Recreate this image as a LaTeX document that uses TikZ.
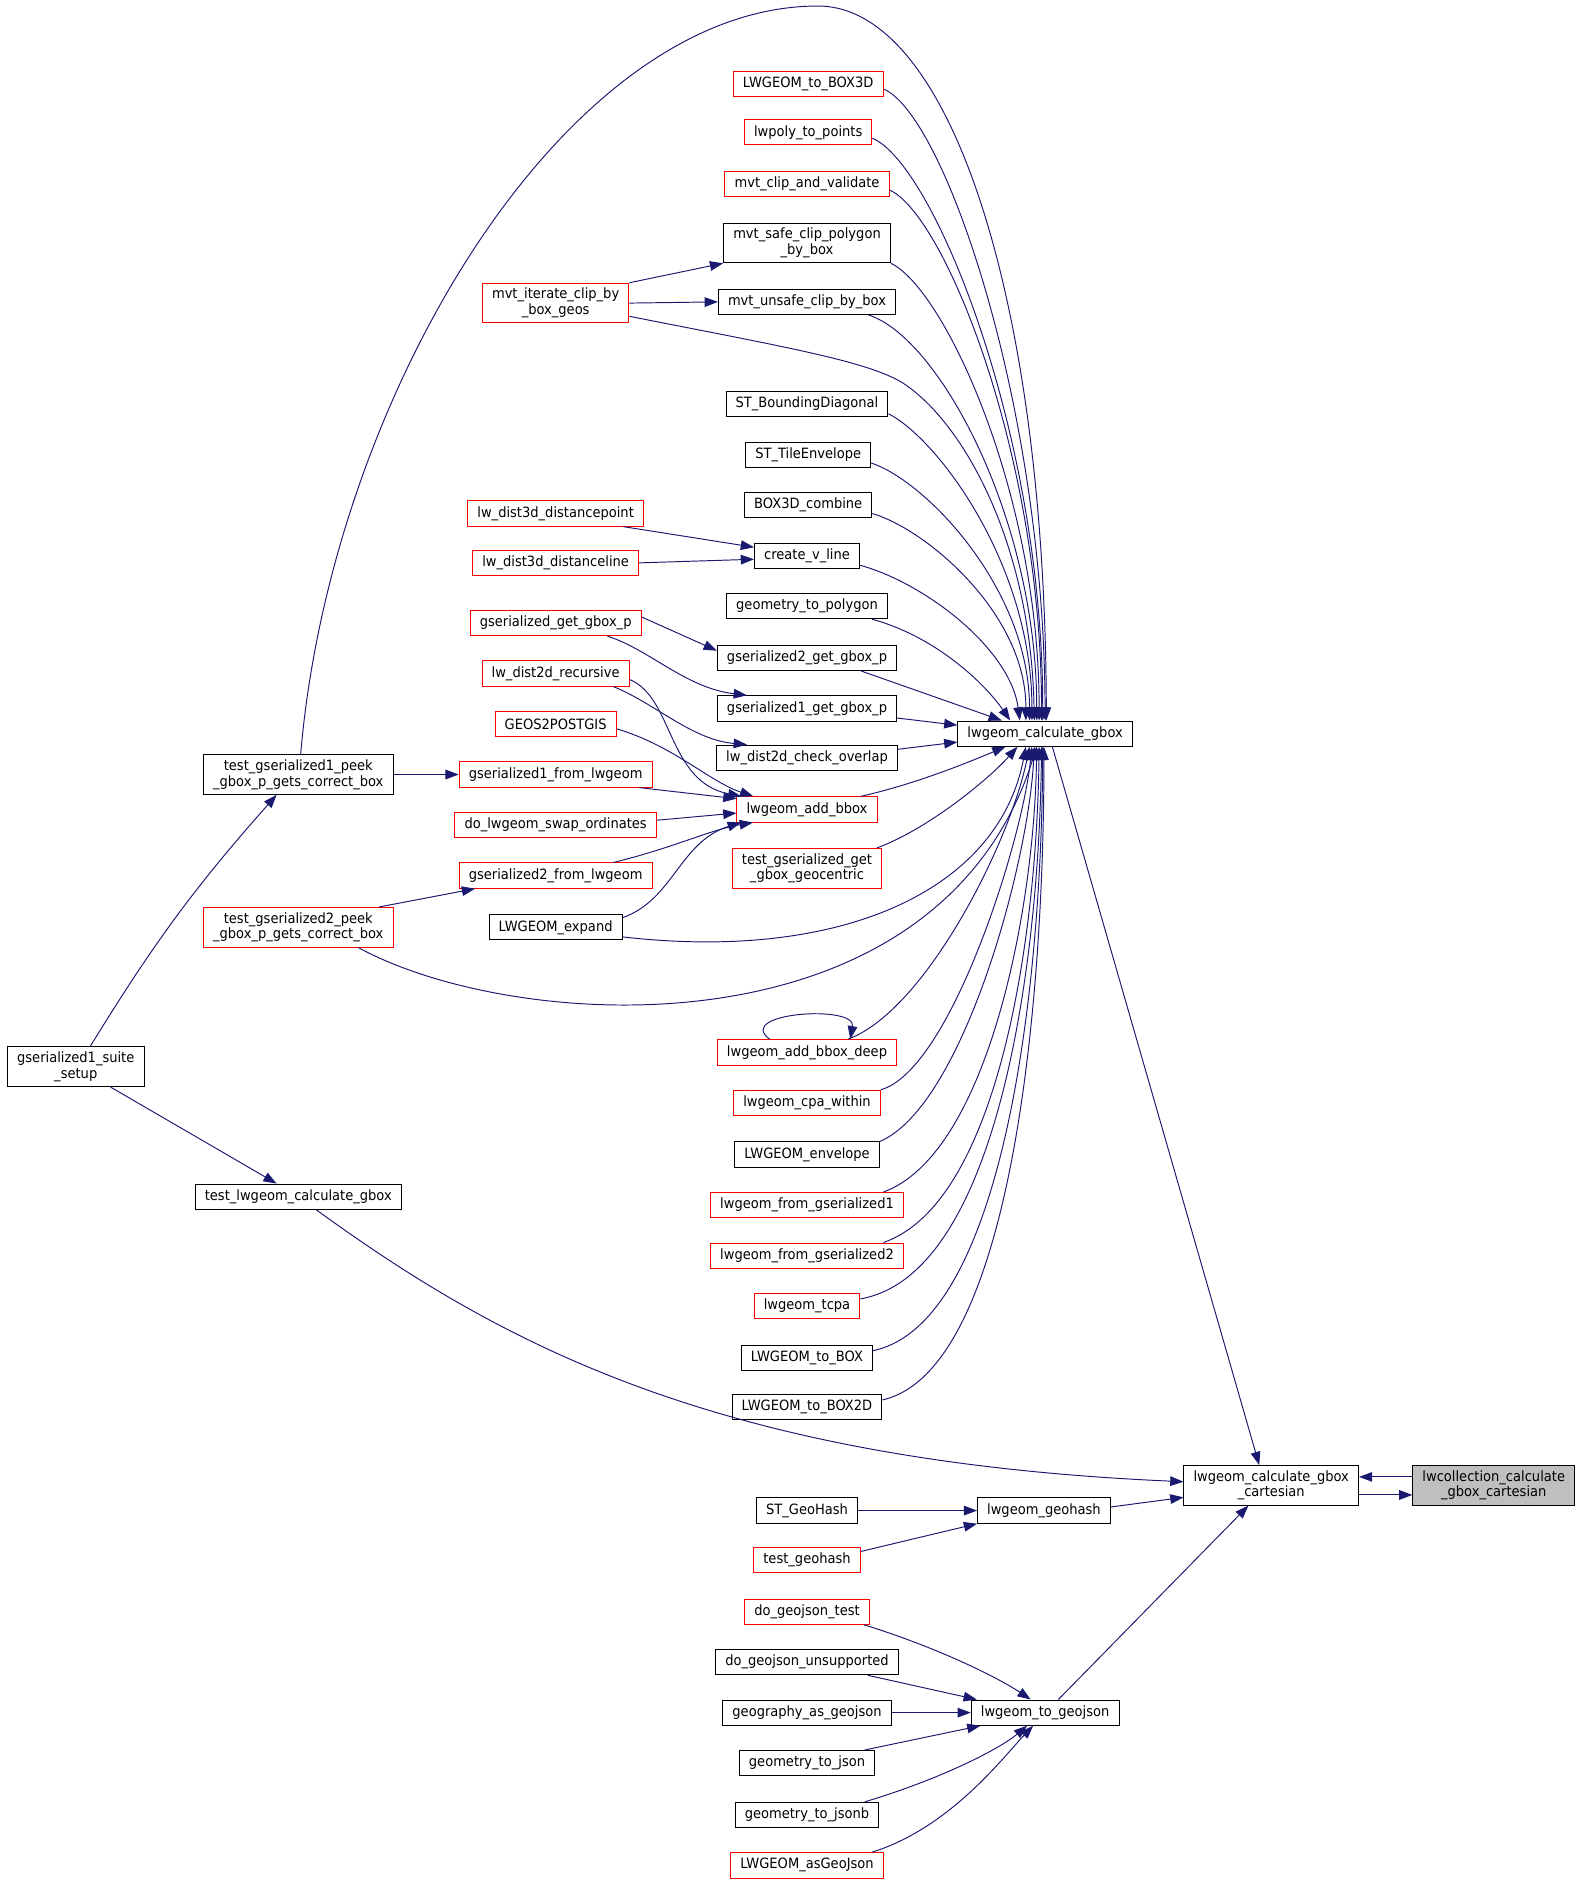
\documentclass[tikz,border=0pt]{standalone}
\usepackage{fontspec}
\setmainfont{DejaVu Sans}[FakeStretch=0.92]
\usepackage{tikz}
\usetikzlibrary{arrows.meta}
\definecolor{navyline}{HTML}{191970}
\newcommand{\nodefont}{\fontsize{11.8}{13}\selectfont}

\begin{document}
\begin{tikzpicture}[x=1pt, y=-1pt,
    fn/.style={draw=black, fill=white, line width=0.8pt, inner xsep=8pt, inner ysep=0pt, minimum height=21pt, font=\nodefont, align=center},
    fnred/.style={fn, draw=red},
    fnfocus/.style={fn, fill=black!25},
    twoline/.style={minimum height=33pt},
    callarrow/.style={draw=navyline, line width=0.8pt, -{Triangle[length=11pt,width=8pt]}}]
    \useasboundingbox (0,0) rectangle (1313,1564);
    \node[fnfocus, twoline] (focus) at (1242,1235) {lwcollection\_calculate\\\_gbox\_cartesian};
    \node[fn, twoline] (cart) at (1057,1235) {lwgeom\_calculate\_gbox\\\_cartesian};
    \node[fn] (calc) at (869,610) {lwgeom\_calculate\_gbox};
    \node[fn] (geohash) at (868,1256) {lwgeom\_geohash};
    \node[fn] (togeojson) at (869,1424) {lwgeom\_to\_geojson};
    \node[fn] (testcalc) at (248,995) {test\_lwgeom\_calculate\_gbox};
    \node[fn, twoline] (suite) at (63,887) {gserialized1\_suite\\\_setup};
    \node[fn, twoline] (peekone) at (248,644) {test\_gserialized1\_peek\\\_gbox\_p\_gets\_correct\_box};
    \node[fnred, twoline] (peektwo) at (248,771) {test\_gserialized2\_peek\\\_gbox\_p\_gets\_correct\_box};
    \node[fnred] (boxthreed) at (672,70) {LWGEOM\_to\_BOX3D};
    \node[fnred] (polypts) at (672,110) {lwpoly\_to\_points};
    \node[fnred] (clipval) at (671,153) {mvt\_clip\_and\_validate};
    \node[fn, twoline] (safeclip) at (671,202) {mvt\_safe\_clip\_polygon\\\_by\_box};
    \node[fn] (unsafeclip) at (671,251) {mvt\_unsafe\_clip\_by\_box};
    \node[fnred, twoline] (iterclip) at (462,252) {mvt\_iterate\_clip\_by\\\_box\_geos};
    \node[fn] (bounddiag) at (671,336) {ST\_BoundingDiagonal};
    \node[fn] (tileenv) at (672,378) {ST\_TileEnvelope};
    \node[fn] (combine) at (672,420) {BOX3D\_combine};
    \node[fnred] (distpoint) at (462,427) {lw\_dist3d\_distancepoint};
    \node[fnred] (distline) at (462,468) {lw\_dist3d\_distanceline};
    \node[fn] (vline) at (671,462) {create\_v\_line};
    \node[fn] (geompoly) at (671,504) {geometry\_to\_polygon};
    \node[fnred] (getgbox) at (462,518) {gserialized\_get\_gbox\_p};
    \node[fn] (gettwo) at (671,547) {gserialized2\_get\_gbox\_p};
    \node[fn] (getone) at (671,589) {gserialized1\_get\_gbox\_p};
    \node[fnred] (recursive) at (462,560) {lw\_dist2d\_recursive};
    \node[fn] (overlap) at (671,630) {lw\_dist2d\_check\_overlap};
    \node[fnred] (geos) at (462,602) {GEOS2POSTGIS};
    \node[fnred] (fromone) at (462,644) {gserialized1\_from\_lwgeom};
    \node[fnred] (swap) at (462,686) {do\_lwgeom\_swap\_ordinates};
    \node[fnred] (fromtwo) at (462,728) {gserialized2\_from\_lwgeom};
    \node[fn] (expand) at (462,771) {LWGEOM\_expand};
    \node[fnred] (addbbox) at (671,673) {lwgeom\_add\_bbox};
    \node[fnred, twoline] (geocentric) at (671,722) {test\_gserialized\_get\\\_gbox\_geocentric};
    \node[fnred] (bboxdeep) at (671,875) {lwgeom\_add\_bbox\_deep};
    \node[fnred] (cpa) at (671,917) {lwgeom\_cpa\_within};
    \node[fn] (envelope) at (671,960) {LWGEOM\_envelope};
    \node[fnred] (gserone) at (671,1002) {lwgeom\_from\_gserialized1};
    \node[fnred] (gsertwo) at (671,1044) {lwgeom\_from\_gserialized2};
    \node[fnred] (tcpa) at (671,1086) {lwgeom\_tcpa};
    \node[fn] (tobox) at (671,1129) {LWGEOM\_to\_BOX};
    \node[fn] (toboxtwod) at (671,1170) {LWGEOM\_to\_BOX2D};
    \node[fn] (sthash) at (671,1256) {ST\_GeoHash};
    \node[fnred] (testhash) at (671,1297) {test\_geohash};
    \node[fnred] (jsontest) at (671,1340) {do\_geojson\_test};
    \node[fn] (unsupported) at (671,1382) {do\_geojson\_unsupported};
    \node[fn] (geography) at (671,1424) {geography\_as\_geojson};
    \node[fn] (tojson) at (671,1466) {geometry\_to\_json};
    \node[fn] (tojsonb) at (671,1509) {geometry\_to\_jsonb};
    \node[fnred] (asgeojson) at (671,1551) {LWGEOM\_asGeoJson};

    \draw[callarrow] ([yshift=7pt]focus.west) -- ([yshift=7pt]cart.east);
    \draw[callarrow] ([yshift=-8pt]cart.east) -- ([yshift=-8pt]focus.west);
    \draw[callarrow] ([xshift=6pt]calc.south) -- ([xshift=-10pt]cart.north);
    \draw[callarrow] ([yshift=3pt]geohash.east) -- ([yshift=-10pt]cart.west);
    \draw[callarrow] ([xshift=11pt]togeojson.north) -- ([xshift=-19pt]cart.south);
    \draw[callarrow] ([xshift=15pt]testcalc.south) .. controls (420,1120) and (600,1215) .. ([yshift=3pt]cart.west);
    \draw[callarrow] ([xshift=12pt]suite.north) to[bend left=5] ([xshift=-18pt]peekone.south);
    \draw[callarrow] ([xshift=29pt]suite.south) -- ([xshift=-18pt]testcalc.north);
    \draw[callarrow] (peekone.east) -- (fromone.west);
    \draw[callarrow] ([xshift=2pt]peekone.north) .. controls (275,330) and (470,5) .. (680,5) .. controls (790,5) and (869,250) .. ([xshift=1pt]calc.north);
    \draw[callarrow] ([xshift=-12pt]peektwo.north east) -- ([xshift=-67pt]fromtwo.south);
    \draw[callarrow] ([xshift=50pt]peektwo.south) .. controls (430,860) and (780,880) .. ([xshift=-7pt]calc.south);
    \draw[callarrow] (iterclip.north east) -- (safeclip.south west);
    \draw[callarrow] (iterclip.east) -- (unsafeclip.west);
    \draw[callarrow] ([yshift=-11pt]iterclip.east) .. controls (650,288) and (720,300) .. (750,318) .. controls (800,350) and (857,450) .. ([xshift=-9pt]calc.north);
    \draw[callarrow] ([yshift=-4pt]boxthreed.east) .. controls (785,95) and (868,336) .. (calc.north);
    \draw[callarrow] ([yshift=-5pt]polypts.east) .. controls (775,135) and (867,357) .. ([xshift=-2pt]calc.north);
    \draw[callarrow] ([yshift=-5pt]clipval.east) .. controls (785,178) and (866,378) .. ([xshift=-3pt]calc.north);
    \draw[callarrow] (safeclip.south east) .. controls (785,240) and (864,410) .. ([xshift=-5pt]calc.north);
    \draw[callarrow] ([xshift=-23pt]unsafeclip.south east) .. controls (780,280) and (862,430) .. ([xshift=-7pt]calc.north);
    \draw[callarrow] ([yshift=-8pt]bounddiag.east) .. controls (780,365) and (858,470) .. ([xshift=-11pt]calc.north);
    \draw[callarrow] ([yshift=-7pt]tileenv.east) .. controls (770,400) and (856,490) .. ([xshift=-13pt]calc.north);
    \draw[callarrow] ([yshift=-7pt]combine.east) .. controls (770,440) and (853,510) .. ([xshift=-16pt]calc.north);
    \draw[callarrow] ([yshift=-8pt]vline.east) .. controls (770,485) and (840,540) .. ([xshift=-21pt]calc.north);
    \draw[callarrow] ([xshift=-13pt]geompoly.south east) .. controls (780,530) and (820,570) .. ([xshift=-29pt]calc.north);
    \draw[callarrow] ([xshift=45pt]gettwo.south) -- ([xshift=-36pt]calc.north);
    \draw[callarrow] ([yshift=-8pt]getone.east) -- ([yshift=7pt]calc.west);
    \draw[callarrow] ([yshift=7pt]overlap.east) -- ([yshift=-7pt]calc.west);
    \draw[callarrow] ([xshift=45pt]addbbox.north) .. controls (760,652) and (800,636) .. ([xshift=-33pt]calc.south);
    \draw[callarrow] ([xshift=58pt]geocentric.north) .. controls (770,690) and (820,650) .. ([xshift=-23pt]calc.south);
    \draw[callarrow] ([yshift=-8pt]expand.east) .. controls (700,800) and (830,740) .. ([xshift=-16pt]calc.south);
    \draw[callarrow] ([xshift=34pt]bboxdeep.north) .. controls (770,840) and (840,700) .. ([xshift=-13pt]calc.south);
    \draw[callarrow] ([xshift=-31pt]bboxdeep.north) .. controls (610,842) and (712,835) .. ([xshift=36pt]bboxdeep.north);
    \draw[callarrow] (cpa.north east) .. controls (790,890) and (850,700) .. ([xshift=-11pt]calc.south);
    \draw[callarrow] (envelope.north east) .. controls (800,920) and (855,720) .. ([xshift=-9pt]calc.south);
    \draw[callarrow] ([xshift=-17pt]gserone.north east) .. controls (820,960) and (860,760) .. ([xshift=-7pt]calc.south);
    \draw[callarrow] ([xshift=-17pt]gsertwo.north east) .. controls (830,1000) and (862,780) .. ([xshift=-5pt]calc.south);
    \draw[callarrow] ([yshift=6pt]tcpa.east) .. controls (830,1060) and (864,800) .. ([xshift=-3pt]calc.south);
    \draw[callarrow] ([yshift=6pt]tobox.east) .. controls (835,1100) and (866,820) .. ([xshift=-2pt]calc.south);
    \draw[callarrow] ([yshift=6pt]toboxtwod.east) .. controls (840,1140) and (868,840) .. ([xshift=-1pt]calc.south);
    \draw[callarrow] ([xshift=-17pt]distpoint.south east) -- ([yshift=7pt]vline.west);
    \draw[callarrow] (distline.east) -- ([yshift=-3pt]vline.west);
    \draw[callarrow] ([yshift=5pt]getgbox.east) -- ([yshift=6pt]gettwo.west);
    \draw[callarrow] ([xshift=43pt]getgbox.south) .. controls (540,540) and (570,572) .. ([xshift=-50pt]getone.north);
    \draw[callarrow] ([xshift=48pt]recursive.south) .. controls (545,585) and (575,615) .. ([xshift=-50pt]overlap.north);
    \draw[callarrow] ([yshift=-5pt]recursive.east) .. controls (560,580) and (555,650) .. ([xshift=4pt]addbbox.north west);
    \draw[callarrow] ([yshift=-4pt]geos.east) .. controls (560,620) and (590,650) .. ([xshift=14pt]addbbox.north west);
    \draw[callarrow] ([xshift=-11pt]fromone.south east) -- ([yshift=-2pt]addbbox.north west);
    \draw[callarrow] ([yshift=4pt]swap.east) -- ([yshift=-3pt]addbbox.west);
    \draw[callarrow] ([xshift=48pt]fromtwo.north) .. controls (560,705) and (590,690) .. ([xshift=-45pt]addbbox.south);
    \draw[callarrow] ([yshift=8pt]expand.east) .. controls (560,748) and (565,700) .. ([xshift=-55pt]addbbox.south);
    \draw[callarrow] (sthash.east) -- (geohash.west);
    \draw[callarrow] ([yshift=7pt]testhash.east) -- (geohash.south west);
    \draw[callarrow] ([xshift=-5pt]jsontest.south east) .. controls (780,1370) and (830,1395) .. ([xshift=-12pt]togeojson.north);
    \draw[callarrow] ([xshift=-26pt]unsupported.south east) -- ([xshift=5pt]togeojson.north west);
    \draw[callarrow] (geography.east) -- (togeojson.west);
    \draw[callarrow] ([xshift=-9pt]tojson.north east) -- ([xshift=8pt]togeojson.south west);
    \draw[callarrow] ([xshift=-12pt]tojsonb.north east) .. controls (780,1480) and (830,1455) .. ([xshift=-15pt]togeojson.south);
    \draw[callarrow] ([xshift=-10pt]asgeojson.north east) .. controls (790,1520) and (835,1460) .. ([xshift=-10pt]togeojson.south);
\end{tikzpicture}
\end{document}
